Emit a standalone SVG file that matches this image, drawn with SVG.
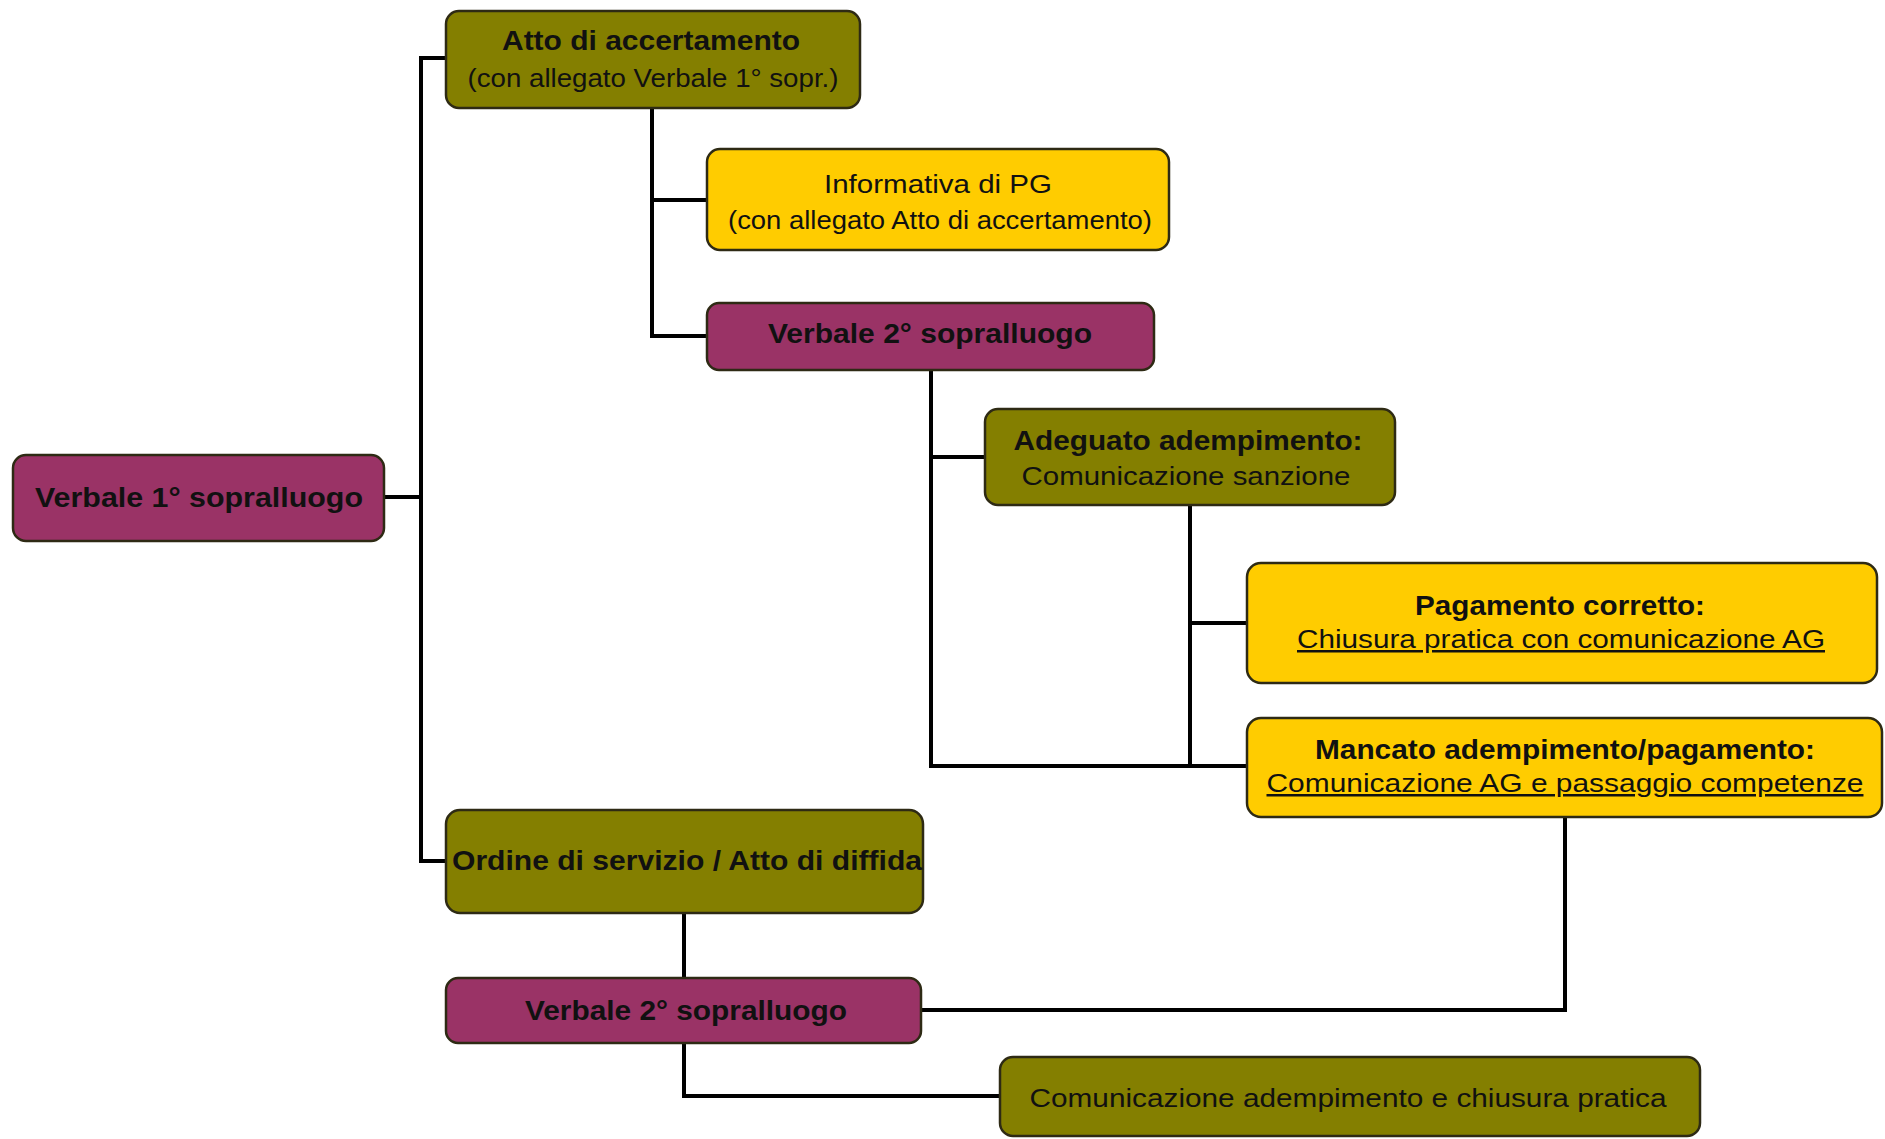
<svg xmlns="http://www.w3.org/2000/svg" width="1885" height="1139" viewBox="0 0 1885 1139">
<style>
.box{stroke:#2e2a14;stroke-width:2.5}
.olive{fill:#847f00}
.mag{fill:#9a3366}
.yel{fill:#ffcc00}
text{font-family:"Liberation Sans",Arial,sans-serif;fill:#111;text-anchor:middle}
.b{font-weight:bold;font-size:28px}
.n{font-size:25px}
.u{text-decoration:underline}
.c{fill:none;stroke:#000;stroke-width:4;stroke-linecap:square}
</style>
<rect width="1885" height="1139" fill="#fff"/>
<g id="connectors">
<path class="c" d="M385,497 H421 M447,58 H421 V861 H447"/>
<path class="c" d="M652,108 V336 H707 M652,200 H707"/>
<path class="c" d="M931,370 V766 H1247 M931,457 H985"/>
<path class="c" d="M1190,505 V766 M1190,623 H1247"/>
<path class="c" d="M1565,817 V1010 H921"/>
<path class="c" d="M684,913 V978"/>
<path class="c" d="M684,1043 V1096 H1000"/>
</g>
<g id="n1">
<rect class="box mag" x="13" y="455" width="371" height="86" rx="13"/>
<text class="b" x="199" y="507" textLength="328" lengthAdjust="spacingAndGlyphs">Verbale 1°  sopralluogo</text>
</g>
<g id="n2">
<rect class="box olive" x="446" y="11" width="414" height="97" rx="13"/>
<text class="b" x="651" y="50" textLength="298" lengthAdjust="spacingAndGlyphs">Atto di accertamento</text>
<text class="n" x="653" y="87" textLength="371" lengthAdjust="spacingAndGlyphs">(con allegato Verbale 1° sopr.)</text>
</g>
<g id="n3">
<rect class="box yel" x="707" y="149" width="462" height="101" rx="13"/>
<text class="n" x="938" y="193" textLength="228" lengthAdjust="spacingAndGlyphs">Informativa di PG</text>
<text class="n" x="940" y="229" textLength="424" lengthAdjust="spacingAndGlyphs">(con allegato Atto di accertamento)</text>
</g>
<g id="n4">
<rect class="box mag" x="707" y="303" width="447" height="67" rx="12"/>
<text class="b" x="930" y="343" textLength="324" lengthAdjust="spacingAndGlyphs">Verbale 2° sopralluogo</text>
</g>
<g id="n5">
<rect class="box olive" x="985" y="409" width="410" height="96" rx="13"/>
<text class="b" x="1188" y="450" textLength="349" lengthAdjust="spacingAndGlyphs">Adeguato adempimento:</text>
<text class="n" x="1186" y="485" textLength="329" lengthAdjust="spacingAndGlyphs">Comunicazione sanzione</text>
</g>
<g id="n6">
<rect class="box yel" x="1247" y="563" width="630" height="120" rx="14"/>
<text class="b" x="1560" y="615" textLength="290" lengthAdjust="spacingAndGlyphs">Pagamento corretto:</text>
<text class="n u" x="1561" y="648" textLength="528" lengthAdjust="spacingAndGlyphs">Chiusura pratica con comunicazione AG</text>
</g>
<g id="n7">
<rect class="box yel" x="1247" y="718" width="635" height="99" rx="14"/>
<text class="b" x="1565" y="759" textLength="500" lengthAdjust="spacingAndGlyphs">Mancato adempimento/pagamento:</text>
<text class="n u" x="1565" y="792" textLength="597" lengthAdjust="spacingAndGlyphs">Comunicazione AG e passaggio competenze</text>
</g>
<g id="n8">
<rect class="box olive" x="446" y="810" width="477" height="103" rx="14"/>
<text class="b" x="687" y="870" textLength="470" lengthAdjust="spacingAndGlyphs">Ordine di servizio / Atto di diffida</text>
</g>
<g id="n9">
<rect class="box mag" x="446" y="978" width="475" height="65" rx="12"/>
<text class="b" x="686" y="1020" textLength="322" lengthAdjust="spacingAndGlyphs">Verbale 2° sopralluogo</text>
</g>
<g id="n10">
<rect class="box olive" x="1000" y="1057" width="700" height="79" rx="13"/>
<text class="n" x="1348" y="1107" textLength="637" lengthAdjust="spacingAndGlyphs">Comunicazione adempimento e chiusura pratica</text>
</g>
</svg>
